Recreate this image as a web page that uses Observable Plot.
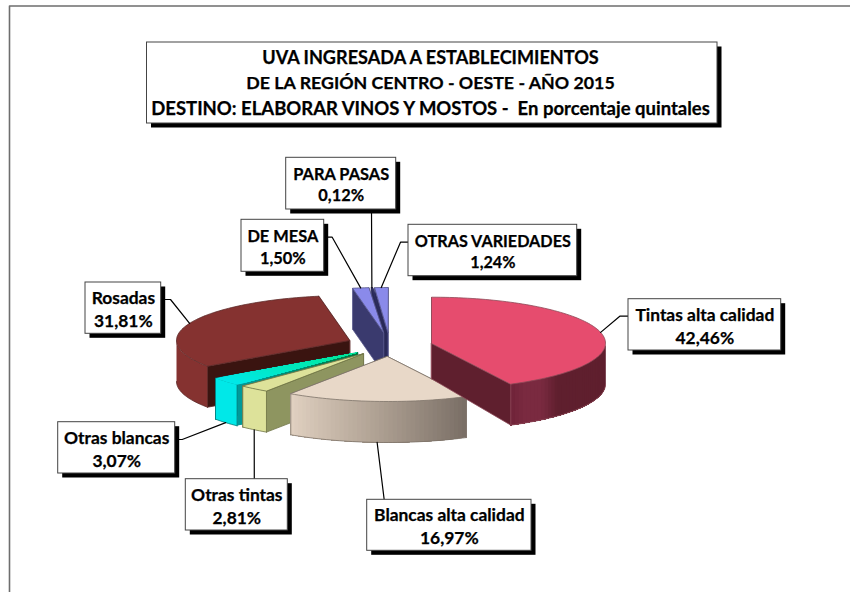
<!DOCTYPE html>
<html>
<head>
<meta charset="utf-8">
<script src="https://cdn.jsdelivr.net/npm/d3@7"></script>
<script src="https://cdn.jsdelivr.net/npm/@observablehq/plot@0.6"></script>
<style>
html,body{margin:0;padding:0;background:#fff}
svg{display:block}
</style>
</head>
<body>
<div id="chart"></div>
<script>
// ---------- data ----------
const titleLines = [
  "UVA INGRESADA A ESTABLECIMIENTOS",
  "DE LA REGIÓN CENTRO - OESTE - AÑO 2015",
  "DESTINO: ELABORAR VINOS Y MOSTOS -  En porcentaje quintales"
];
const categories = ["Tintas alta calidad","Blancas alta calidad","Otras tintas","Otras blancas","Rosadas","DE MESA","PARA PASAS","OTRAS VARIEDADES"];
const values = [42.46,16.97,2.81,3.07,31.81,1.50,0.12,1.24];

// ---------- layout and style (pixels, one entry per category) ----------
const centerX = [431,387,362.7,357,349,383,385.5,387.5];
const centerY = [342.7,356,353.3,352,340,332,332,332];
const radX = [174,173,173,173,173,173,173,173];
const radY = [46,45,45,45,45,45,45,45];
const depth = 41;
const topColor = [["#e64c6e","#e64c6e"],["#e8d8c8","#e8d8c8"],["#dde29a","#dde29a"],["#00e8e8","#00e890"],["#853230","#853230"],["#8a8aea","#8a8aea"],["#34346a","#34346a"],["#8a8aea","#8a8aea"]];
const dark = "#5f1f2e";
const rimColor = [
  [dark,dark,dark,dark,dark,dark,dark,"#7a2a40","#7a2a40","#6a2035"],
  ["#7a6f66","#b0a294","#e2d2c2"],["#dde29a"],["#00e8e8"],["#853230"],["#3a3a6e"],["#3a3a6e"],["#3a3a6e"]];
const cutColor = [["#5f1f2e","#5f1f2e"],["#7a6f66","#7a6f66"],["#8e9560","#8e9560"],["#009a9a","#007a40"],["#3a1410","#3a1410"],["#3a3a6e","#3a3a6e"],["#2a2a58","#2a2a58"],["#2e2e62","#2e2e62"]];
const edgeColor = ["#8d4a58","#7d736a","#6e7445","#007a7a","#5d2a28","#55558a","#2a2a58","#55558a"];
const drawOrder = [7,6,5,4,3,2,1,0];
const boxX1 = [628,366.7,185.3,57.7,85,241,285.7,408];
const boxX2 = [780.7,531,287.3,174.7,160.7,323.7,395.7,576.7];
const boxY1 = [298.7,499.3,478.7,421.7,282,219.3,157.3,224.3];
const boxY2 = [350,550.3,530,473,333.3,271.3,209,275.7];
const labelSize = [17.4,17.4,17.4,17.4,17.4,16.4,16.4,16.2];
const leaderOnWall = [false,true,true,true,false,false,false,false];
const leaderMid = [[619.3,315.7],null,null,[181.7,439],[170,299],[331.7,236.7],null,[400,241.7]];
const leaderEnd = [[628,315.7],[383.7,499.3],[253.8,478.7],[174.7,439],[160.7,299],[323.7,236.7],[371,209],[408,241.7]];
const titleY = [57.5,83,108.5];
const titleSize = [18.1,17.8,18.5];
const FONT = "Lato";
const shadow = 4.5;

// ---------- geometry from the values ----------
const total = d3.sum(values);
let acc = 0;
const slices = values.map((v,i)=>{
  const a0 = acc/total*2*Math.PI; acc += v;
  return {i, a0, a1: acc/total*2*Math.PI};
});
const rim = (i,a)=>[centerX[i]+radX[i]*Math.sin(a), centerY[i]-radY[i]*Math.cos(a)];
const down = (p,h=depth)=>[p[0],p[1]+h];
const along = (c,p,t)=>[c[0]+(p[0]-c[0])*t,c[1]+(p[1]-c[1])*t];

const poly = (pts,fill,stroke,sw=0.8)=>Plot.line(pts,{x:d=>d[0],y:d=>d[1],curve:"linear-closed",fill,stroke,strokeWidth:sw,strokeLinejoin:"round"});
const seg = (pts,stroke)=>Plot.line(pts,{x:d=>d[0],y:d=>d[1],stroke,strokeWidth:0.8});

function sliceMarks(s){
  const {i,a0,a1} = s, out = [];
  const c = [centerX[i],centerY[i]];
  const cBottom = down(c, i===0 ? 35.6 : depth);
  const pa = rim(i,a0), pb = rim(i,a1);
  // flat cut faces
  out.push(poly([c,pb,down(pb),cBottom],cutColor[i][0],edgeColor[i]));
  if (cutColor[i][0]===cutColor[i][1]) {
    out.push(poly([c,pa,down(pa),cBottom],cutColor[i][0],edgeColor[i]));
  } else {
    const mix = d3.interpolateRgb(cutColor[i][0],cutColor[i][1]), bands = 40;
    for (let b=0;b<bands;b++){
      const t=1-b/bands, p=along(c,pa,t), pd=along(cBottom,down(pa),t);
      out.push(poly([c,p,pd,cBottom],mix(b/bands),"none"));
    }
  }
  // curved outer wall (only the front half of the ellipse shows): each step paints
  // from its own angle to the far end, so the shading has no seams between steps
  const n = Math.max(2,Math.ceil((a1-a0)/(Math.PI/120)));
  const arc = d3.range(n+1).map(k=>a0+(a1-a0)*k/n);
  const front = [a0,a1,Math.PI/2,3*Math.PI/2,...arc.filter(a=>Math.cos(a)<0)]
    .filter(a=>a>=a0 && a<=a1 && Math.cos(a)<1e-9);
  const as = [...new Set(front)].sort(d3.ascending);
  if (as.length>1){
    const shade = rimColor[i].length>1 ? d3.piecewise(d3.interpolateRgb,rimColor[i]) : ()=>rimColor[i][0];
    const steps = rimColor[i].length>1 ? as.length-1 : 1;
    for (let k=0;k<steps;k++){
      const top = as.slice(k).map(a=>rim(i,a));
      const low = top.map(p=>down(p)).reverse();
      out.push(poly([...top,...low],shade(k/(as.length-1)),"none"));
    }
    out.push(seg(as.map(a=>down(rim(i,a))),edgeColor[i]));
    if (a0>Math.PI/2) out.push(seg([pa,down(pa)],edgeColor[i]));
    out.push(seg([pb,down(pb)],edgeColor[i]));
  }
  // top surface
  if (topColor[i][0]===topColor[i][1]){
    out.push(poly([c,...arc.map(a=>rim(i,a))],topColor[i][0],edgeColor[i]));
  } else {
    const bands = 40, mix = d3.interpolateRgb(topColor[i][0],topColor[i][1]);
    for (let b=0;b<bands;b++){
      const t=1-b/bands;
      out.push(poly([c,...arc.map(a=>along(c,rim(i,a),t))],mix(b/bands),"none"));
    }
  }
  return out;
}

// ---------- labels ----------
const fmt = v=>v.toFixed(2).replace(".",",");
const labelRows = categories.map((name,i)=>({
  text:name+"\n"+fmt(values[i])+"%", size:labelSize[i],
  x1:boxX1[i],x2:boxX2[i],y1:boxY1[i],y2:boxY2[i]
}));
const leaderRows = slices.flatMap(s=>{
  const i=s.i, mid=(s.a0+s.a1)/2;
  const start = leaderOnWall[i]?down(rim(i,mid)):rim(i,mid);
  return [start,leaderMid[i],leaderEnd[i]].filter(Boolean).map(p=>({name:categories[i],x:p[0],y:p[1]}));
});
const titleBox = [{x1:146.5,x2:717,y1:42,y2:123}];
const titleRows = titleLines.map((t,k)=>({t,y:titleY[k],size:titleSize[k]}));

const boxMarks = (rows)=>[
  Plot.rect(rows,{x1:d=>d.x1+shadow,x2:d=>d.x2+shadow,y1:d=>d.y1+shadow,y2:d=>d.y2+shadow,fill:"#000"}),
  Plot.rect(rows,{x1:"x1",x2:"x2",y1:"y1",y2:"y2",fill:"#fff",stroke:"#444",strokeWidth:1})
];

const chart = Plot.plot({
  width:850,height:592,margin:0,
  x:{domain:[0,850],range:[0,850],axis:null},
  y:{domain:[0,592],range:[0,592],axis:null},
  style:{background:"#fff",whiteSpace:"pre"},
  marks:[
    Plot.line([[9,592],[9,5.5],[850,5.5]],{x:d=>d[0],y:d=>d[1],stroke:"#6e6e6e",strokeWidth:1.6}),
    ...drawOrder.flatMap(k=>sliceMarks(slices[k])),
    Plot.line(leaderRows,{x:"x",y:"y",z:"name",stroke:"#000",strokeWidth:1.2}),
    ...boxMarks(titleBox),
    Plot.text(titleRows,{x:430,y:"y",text:"t",fontFamily:FONT,fontWeight:"bold",fontSize:"size",fill:"#000",stroke:"#000",strokeWidth:0.25,lineAnchor:"middle"}),
    ...boxMarks(labelRows),
    Plot.text(labelRows,{x:d=>(d.x1+d.x2)/2,y:d=>(d.y1+d.y2)/2,text:"text",fontFamily:FONT,fontWeight:"bold",fontSize:"size",lineHeight:1.32,fill:"#000",stroke:"#000",strokeWidth:0.25,lineAnchor:"middle"})
  ]
});
document.getElementById("chart").append(chart);
</script>
</body>
</html>
